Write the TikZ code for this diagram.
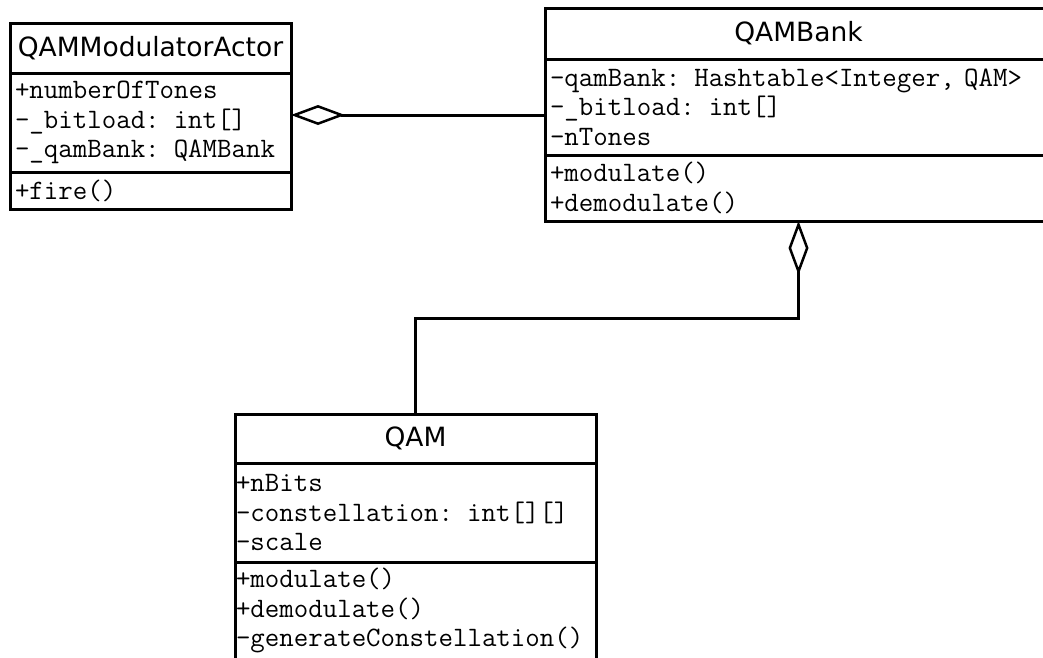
\documentclass[tikz,border=0pt]{standalone}
\usepackage{fontspec}
\usetikzlibrary{arrows.meta}
\newfontfamily\cabecera{DejaVu Sans}

\begin{document}
\begin{tikzpicture}[x=1pt, y=-1pt,
	clase/.style={rectangle, draw, line width=3pt, outer sep=0pt, anchor=north west},
	titulo/.style={clase, font=\cabecera\fontsize{26.5}{30}\selectfont, inner sep=0pt},
	campos/.style={clase, font=\ttfamily\fontsize{28.1}{29.5}\selectfont, align=left, inner xsep=5pt, inner ysep=2pt},
	agregacion/.style={line width=3pt, {Diamond[open, length=54pt, width=20pt, line width=2.5pt]}-}
]
	\useasboundingbox (0,0) rectangle (1043,657);

	% Clases
	\node[titulo, minimum width=281pt, minimum height=50pt] (actor) at (10,23) {QAMModulatorActor};
	\node[campos, minimum width=281pt, minimum height=99pt, text width=271pt] (actor-attr) at (10,73) {+numberOfTones\\-\_bitload: int[]\\-\_qamBank: QAMBank};
	\node[campos, minimum width=281pt, minimum height=37pt, text width=271pt] (actor-ops) at (10,172) {+fire()};

	\node[titulo, minimum width=507pt, minimum height=51pt] (bank) at (545,8) {QAMBank};
	\node[campos, minimum width=507pt, minimum height=96pt, text width=497pt] (bank-attr) at (545,59) {-qamBank: Hashtable<Integer, QAM>\\-\_bitload: int[]\\-nTones};
	\node[campos, minimum width=507pt, minimum height=66pt, text width=497pt] (bank-ops) at (545,155) {+modulate()\\+demodulate()};

	\node[titulo, minimum width=361pt, minimum height=49pt] (qam) at (235,414) {QAM};
	\node[campos, inner xsep=1pt, minimum width=361pt, minimum height=99pt, text width=359pt] (qam-attr) at (235,463) {+nBits\\-constellation: int[][]\\-scale};
	\node[campos, inner xsep=1pt, inner ysep=6pt, minimum width=361pt, text width=359pt, text depth=90pt] (qam-ops) at (235,562) {+modulate()\\+demodulate()\\-generateConstellation()};

	% Relaciones
	\coordinate (actor-port) at ([yshift=7.5pt]actor-attr.east);
	\draw[agregacion] (actor-port) -- (actor-port -| bank-attr.west);
	\draw[agregacion] (bank-ops.south) -- ++(0,97) -| (qam.north);

\end{tikzpicture}
\end{document}
